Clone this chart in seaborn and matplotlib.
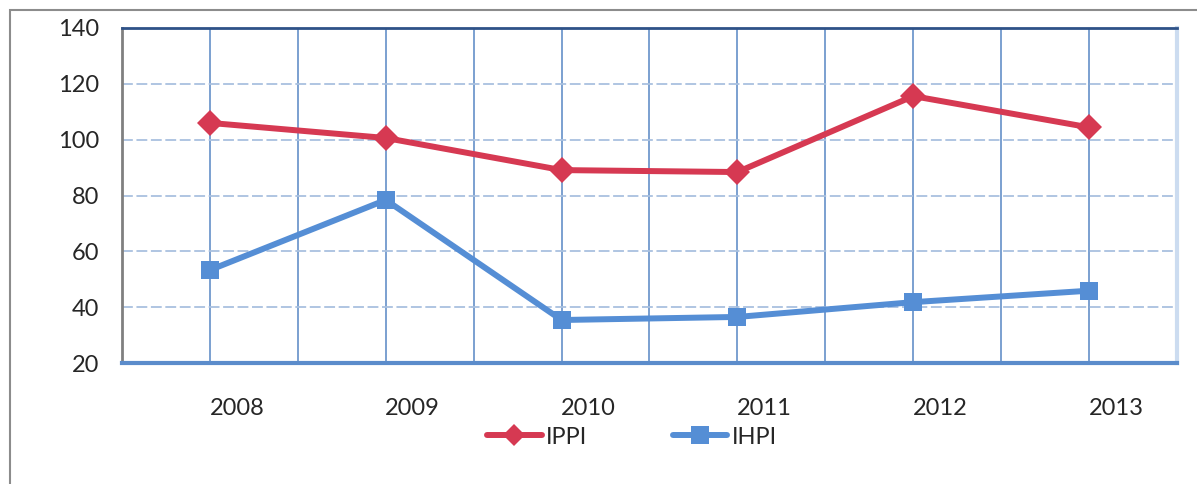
#!/usr/bin/env python3
# -*- coding: utf-8 -*-
import pandas as pd
import matplotlib
matplotlib.use('Agg')
import matplotlib.pyplot as plt
import matplotlib.transforms as mtransforms
from matplotlib.patches import Rectangle
import seaborn as sns

years = ['2008', '2009', '2010', '2011', '2012', '2013']
ippi = [106.0, 100.6, 89.1, 88.4, 115.6, 104.4]
ihpi = [53.3, 78.4, 35.4, 36.5, 41.8, 45.9]
series_names = ['IPPI', 'IHPI']
y_ticks = [20, 40, 60, 80, 100, 120, 140]

RED = '#D63952'
BLUE = '#558ED5'
FONT_SIZE = 17


def build_df():
    '''
    Put both series into one long dataframe for seaborn
    '''
    n = len(years)
    df = pd.DataFrame({'pos': list(range(n)) * 2,
                       'value': ippi + ihpi,
                       'series': [series_names[0]] * n + [series_names[1]] * n})
    return df


def style_axes(ax):
    '''
    Excel-like frame, ticks and grid
    '''
    n = len(years)
    ax.set_xlim(-0.5, n - 0.5)
    ax.set_ylim(y_ticks[0], y_ticks[-1])
    ax.set_yticks(y_ticks)

    # boundaries as major ticks, centres as minor ticks carrying labels
    ax.set_xticks([i - 0.5 for i in range(n + 1)])
    ax.set_xticklabels([])
    ax.set_xticks(list(range(n)), minor=True)
    ax.set_xticklabels(years, minor=True)

    ax.tick_params(axis='x', which='major', direction='out', length=6.5,
                   width=1.5, color=BLUE)
    ax.tick_params(axis='x', which='minor', length=0, pad=25,
                   labelsize=FONT_SIZE)
    ax.tick_params(axis='y', direction='out', length=6.5, width=1.5,
                   color='#8C8C8C', labelsize=FONT_SIZE, pad=10)

    # year labels sit a bit right of the category centre
    offset = mtransforms.ScaledTranslation(27 / 100, 0, ax.figure.dpi_scale_trans)
    for lab in ax.get_xticklabels(minor=True):
        lab.set_transform(lab.get_transform() + offset)

    ax.grid(False)
    ax.yaxis.grid(True, color='#A9C0DF', linestyle=(0, (6, 2)), linewidth=1.3)
    ax.xaxis.grid(True, which='both', color='#7199CD', linestyle='-',
                  linewidth=1.3)
    ax.set_axisbelow(True)

    ax.spines['top'].set_color('#2E5288')
    ax.spines['top'].set_linewidth(2)
    ax.spines['right'].set_color('#CCDCF0')
    ax.spines['right'].set_linewidth(3)
    ax.spines['bottom'].set_color('#5B8CCB')
    ax.spines['bottom'].set_linewidth(3)
    ax.spines['left'].set_color('#808080')
    ax.spines['left'].set_linewidth(2)
    for sp in ax.spines.values():
        sp.set_visible(True)

    ax.set_xlabel('')
    ax.set_ylabel('')


def main():
    sns.set_style('white')
    plt.rcParams['font.family'] = ['Lato', 'DejaVu Sans']

    df = build_df()

    fig = plt.figure(figsize=(11.97, 4.84), dpi=100)
    ax = fig.add_axes([122 / 1197, 1 - 363 / 484,
                       (1177 - 122) / 1197, (363 - 28) / 484])

    sns.lineplot(data=df, x='pos', y='value', hue='series', style='series',
                 palette=[RED, BLUE], markers=['D', 's'], dashes=False,
                 markersize=13, markeredgewidth=0, linewidth=4.3,
                 legend=False, ax=ax)

    style_axes(ax)

    # legend below the plot
    handles = [plt.Line2D([], [], color=RED, marker='D', markersize=11,
                          markeredgewidth=0, linewidth=4.3),
               plt.Line2D([], [], color=BLUE, marker='s', markersize=13,
                          markeredgewidth=0, linewidth=4.3)]
    fig.legend(handles, series_names, loc='center', ncol=2,
               bbox_to_anchor=(632 / 1197, 1 - 437 / 484), frameon=False,
               fontsize=FONT_SIZE, handlelength=2.3, handletextpad=0.2,
               columnspacing=3.6)

    # chart area border, partly cut off on the right and bottom
    fig.patches.append(Rectangle((10 / 1197, -0.1), 1.2, 1.1 - 10 / 484,
                                 transform=fig.transFigure, fill=False,
                                 edgecolor='#8C8C8C', linewidth=1.5))

    fig.savefig('out.png', dpi=100)


if __name__ == "__main__":
    main()
